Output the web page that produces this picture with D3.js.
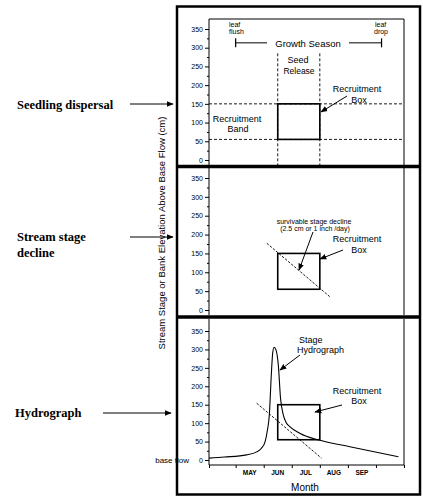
<!DOCTYPE html>
<html><head><meta charset="utf-8">
<script src="https://cdn.jsdelivr.net/npm/d3@7"></script>
<style>body{margin:0;background:#fff}svg{display:block}</style>
</head><body>
<svg id="c" width="423" height="498"></svg>
<script>
// ---- data ----
const yTicks = [0, 50, 100, 150, 200, 250, 300, 350];
const yMinor = [25, 75, 125, 175, 225, 275, 325];
const monthLabels = ["MAY", "JUN", "JUL", "AUG", "SEP"];
const monthCenters = [5.5, 6.5, 7.5, 8.5, 9.5];
const monthTicks = [4.05, 5, 6, 7, 8, 9, 10, 11];
const seedRelease = [6.5, 8];          // month
const recruitBand = [55, 150];         // cm
const recruitBoxX = [6.5, 8];
const recruitBoxY = [55, 150];
const growthSeason = [5.0, 10.2];
const growthSeasonLevel = 313;
const seedReleaseTop = 285;
const decline2 = [[6.11, 177], [8.36, 35]];
const decline3 = [[5.75, 154], [8.06, 5]];
const hydroX = [4.05, 4.6, 5.39, 5.75, 5.92, 6.05, 6.13, 6.2, 6.27, 6.32, 6.37, 6.44, 6.52, 6.6, 6.7, 6.8, 6.94, 7.3, 7.97, 9.07, 10.8];
const hydroY = [5, 8, 14, 22, 32, 50, 80, 122, 230, 290, 306, 298, 258, 167, 122, 102, 90, 72, 54, 36, 9];

// ---- layout ----
const svg = d3.select("#c");
const sans = "Liberation Sans, Arial, sans-serif";
const serif = "Liberation Serif, Times New Roman, serif";
const x = d3.scaleLinear().domain([4.05, 11]).range([209, 404]);
const panels = [
  {top: 19, bottom: 165, y: d3.scaleLinear().domain([0, 350]).range([160, 29])},
  {top: 168, bottom: 315, y: d3.scaleLinear().domain([0, 350]).range([310, 178])},
  {top: 319, bottom: 465, y: d3.scaleLinear().domain([0, 350]).range([460, 331])}
];

const defs = svg.append("defs");
defs.append("marker").attr("id", "ah").attr("viewBox", "0 0 10 10")
  .attr("refX", 9).attr("refY", 5).attr("markerWidth", 7).attr("markerHeight", 7)
  .attr("markerUnits", "userSpaceOnUse").attr("orient", "auto")
  .append("path").attr("d", "M0,1 L10,5 L0,9 Z").attr("fill", "#000");

function arrow(x1, y1, x2, y2, w) {
  svg.append("line").attr("x1", x1).attr("y1", y1).attr("x2", x2).attr("y2", y2)
    .attr("stroke", "#000").attr("stroke-width", w || 1).attr("marker-end", "url(#ah)");
}
function text(t, px, py, size, anchor, opts) {
  const el = svg.append("text").attr("x", px).attr("y", py).text(t)
    .attr("font-family", (opts && opts.family) || sans).attr("font-size", size)
    .attr("text-anchor", anchor || "start").attr("fill", "#000");
  if (opts && opts.weight) el.attr("font-weight", opts.weight);
  return el;
}

// outer frame
svg.append("rect").attr("x", 177).attr("y", 6.5).attr("width", 243).attr("height", 488)
  .attr("fill", "none").attr("stroke", "#000").attr("stroke-width", 2.5);
// separating bands
[166.5, 317].forEach(yy => svg.append("line").attr("x1", 177).attr("x2", 420)
  .attr("y1", yy).attr("y2", yy).attr("stroke", "#000").attr("stroke-width", 3.5));

// panels: axes
panels.forEach((p, i) => {
  const g = svg.append("g");
  g.append("line").attr("x1", 209).attr("x2", 209).attr("y1", p.top).attr("y2", p.bottom)
    .attr("stroke", "#000").attr("stroke-width", 1);
  g.append("line").attr("x1", 404).attr("x2", 404).attr("y1", p.top).attr("y2", p.bottom)
    .attr("stroke", "#000").attr("stroke-width", 1);
  if (i === 0) g.append("line").attr("x1", 209).attr("x2", 404).attr("y1", p.top).attr("y2", p.top)
    .attr("stroke", "#000").attr("stroke-width", 1);
  const ax = d3.axisLeft(p.y).tickValues(yTicks).tickSize(4).tickPadding(2);
  const ag = g.append("g").attr("transform", "translate(209,0)").call(ax);
  ag.select(".domain").remove();
  ag.selectAll("text").attr("font-family", sans).attr("font-size", 7).attr("fill", "#000");
  ag.selectAll("line").attr("stroke", "#000");
  const mg = g.append("g").attr("transform", "translate(209,0)")
    .call(d3.axisLeft(p.y).tickValues(yMinor).tickSize(2).tickFormat(""));
  mg.select(".domain").remove();
  mg.selectAll("line").attr("stroke", "#000");
});

// ---- panel 1 ----
const p1 = panels[0];
recruitBand.forEach(v => svg.append("line").attr("x1", 209).attr("x2", 404)
  .attr("y1", p1.y(v)).attr("y2", p1.y(v)).attr("stroke", "#000").attr("stroke-width", 0.9)
  .attr("stroke-dasharray", "3,2"));
seedRelease.forEach(v => svg.append("line").attr("x1", x(v)).attr("x2", x(v))
  .attr("y1", p1.y(seedReleaseTop)).attr("y2", 165).attr("stroke", "#000").attr("stroke-width", 0.9)
  .attr("stroke-dasharray", "3,2"));
// growth season bracket
const gsY = p1.y(growthSeasonLevel);
svg.append("line").attr("x1", x(growthSeason[0])).attr("x2", 267).attr("y1", gsY).attr("y2", gsY).attr("stroke", "#000");
svg.append("line").attr("x1", 349).attr("x2", x(growthSeason[1])).attr("y1", gsY).attr("y2", gsY).attr("stroke", "#000");
growthSeason.forEach(v => svg.append("line").attr("x1", x(v)).attr("x2", x(v))
  .attr("y1", gsY - 4.5).attr("y2", gsY + 4.5).attr("stroke", "#000").attr("stroke-width", 1.2));
text("Growth Season", 308, 46.5, 9.5, "middle");
text("leaf", 229, 27, 7);
text("flush", 229, 34, 7);
text("leaf", 375, 27, 7);
text("drop", 374, 34, 7);
text("Seed", 298, 62.5, 9, "middle");
text("Release", 299, 73.5, 8.5, "middle");
text("Recruitment", 357, 92, 9, "middle");
text("Box", 359, 103, 9, "middle");
arrow(347, 96, 321, 112);
text("Recruitment", 237, 121.5, 9, "middle");
text("Band", 238, 131.5, 9, "middle");

// recruitment boxes in all panels
panels.forEach(p => {
  svg.append("rect").attr("x", x(recruitBoxX[0])).attr("y", p.y(recruitBoxY[1]))
    .attr("width", x(recruitBoxX[1]) - x(recruitBoxX[0]))
    .attr("height", p.y(recruitBoxY[0]) - p.y(recruitBoxY[1]))
    .attr("fill", "none").attr("stroke", "#000").attr("stroke-width", 1.6);
});

// ---- panel 2 ----
const p2 = panels[1];
const dl = (p) => d3.line().x(d => x(d[0])).y(d => p.y(d[1]));
svg.append("path").attr("d", dl(p2)(decline2)).attr("fill", "none").attr("stroke", "#000")
  .attr("stroke-width", 0.9).attr("stroke-dasharray", "2.5,1.5");
text("survivable stage decline", 314, 223.5, 7, "middle");
text("(2.5 cm or 1 inch /day)", 315, 230.5, 7, "middle");
arrow(313, 232, 299, 270);
text("Recruitment", 357, 242, 9, "middle");
text("Box", 359, 253, 9, "middle");
arrow(343, 250, 320, 259);

// ---- panel 3 ----
const p3 = panels[2];
svg.append("path").attr("d", dl(p3)(decline3)).attr("fill", "none").attr("stroke", "#000")
  .attr("stroke-width", 0.9).attr("stroke-dasharray", "2.5,1.5");
const hydro = hydroX.map((v, i) => [v, hydroY[i]]);
svg.append("path").attr("d", d3.line().x(d => x(d[0])).y(d => p3.y(d[1])).curve(d3.curveMonotoneX)(hydro))
  .attr("fill", "none").attr("stroke", "#000").attr("stroke-width", 1.1);
text("Stage", 299, 343, 9);
text("Hydrograph", 297, 353, 9);
arrow(300, 355, 280, 370);
text("Recruitment", 357, 394, 9, "middle");
text("Box", 359, 404, 9, "middle");
arrow(342, 405, 315, 412);
text("base flow", 189, 463, 8, "end");

// x axis
svg.append("line").attr("x1", 209).attr("x2", 404).attr("y1", 465).attr("y2", 465).attr("stroke", "#000");
const xa = svg.append("g").attr("transform", "translate(0,465)")
  .call(d3.axisBottom(x).tickValues(monthTicks).tickSize(3).tickFormat(""));
xa.select(".domain").remove();
xa.selectAll("line").attr("stroke", "#000");
monthLabels.forEach((m, i) => text(m, x(monthCenters[i]), 474.5, 6.5, "middle", {weight: "bold"}));
text("Month", 305, 490.5, 10, "middle");

// y axis title
svg.append("text").attr("transform", "translate(165,233) rotate(-90)")
  .attr("text-anchor", "middle").attr("font-family", sans).attr("font-size", 9.5)
  .text("Stream Stage or Bank Elevation Above Base Flow (cm)");

// left labels
text("Seedling dispersal", 17, 109, 12.5, "start", {family: serif, weight: "bold"});
arrow(130, 104, 173, 104);
text("Stream stage", 17, 241, 12.5, "start", {family: serif, weight: "bold"});
text("decline", 17, 257, 12.5, "start", {family: serif, weight: "bold"});
arrow(130, 237, 173, 237);
text("Hydrograph", 15, 417, 12.5, "start", {family: serif, weight: "bold"});
arrow(103, 413, 171, 413);
</script>
</body></html>
